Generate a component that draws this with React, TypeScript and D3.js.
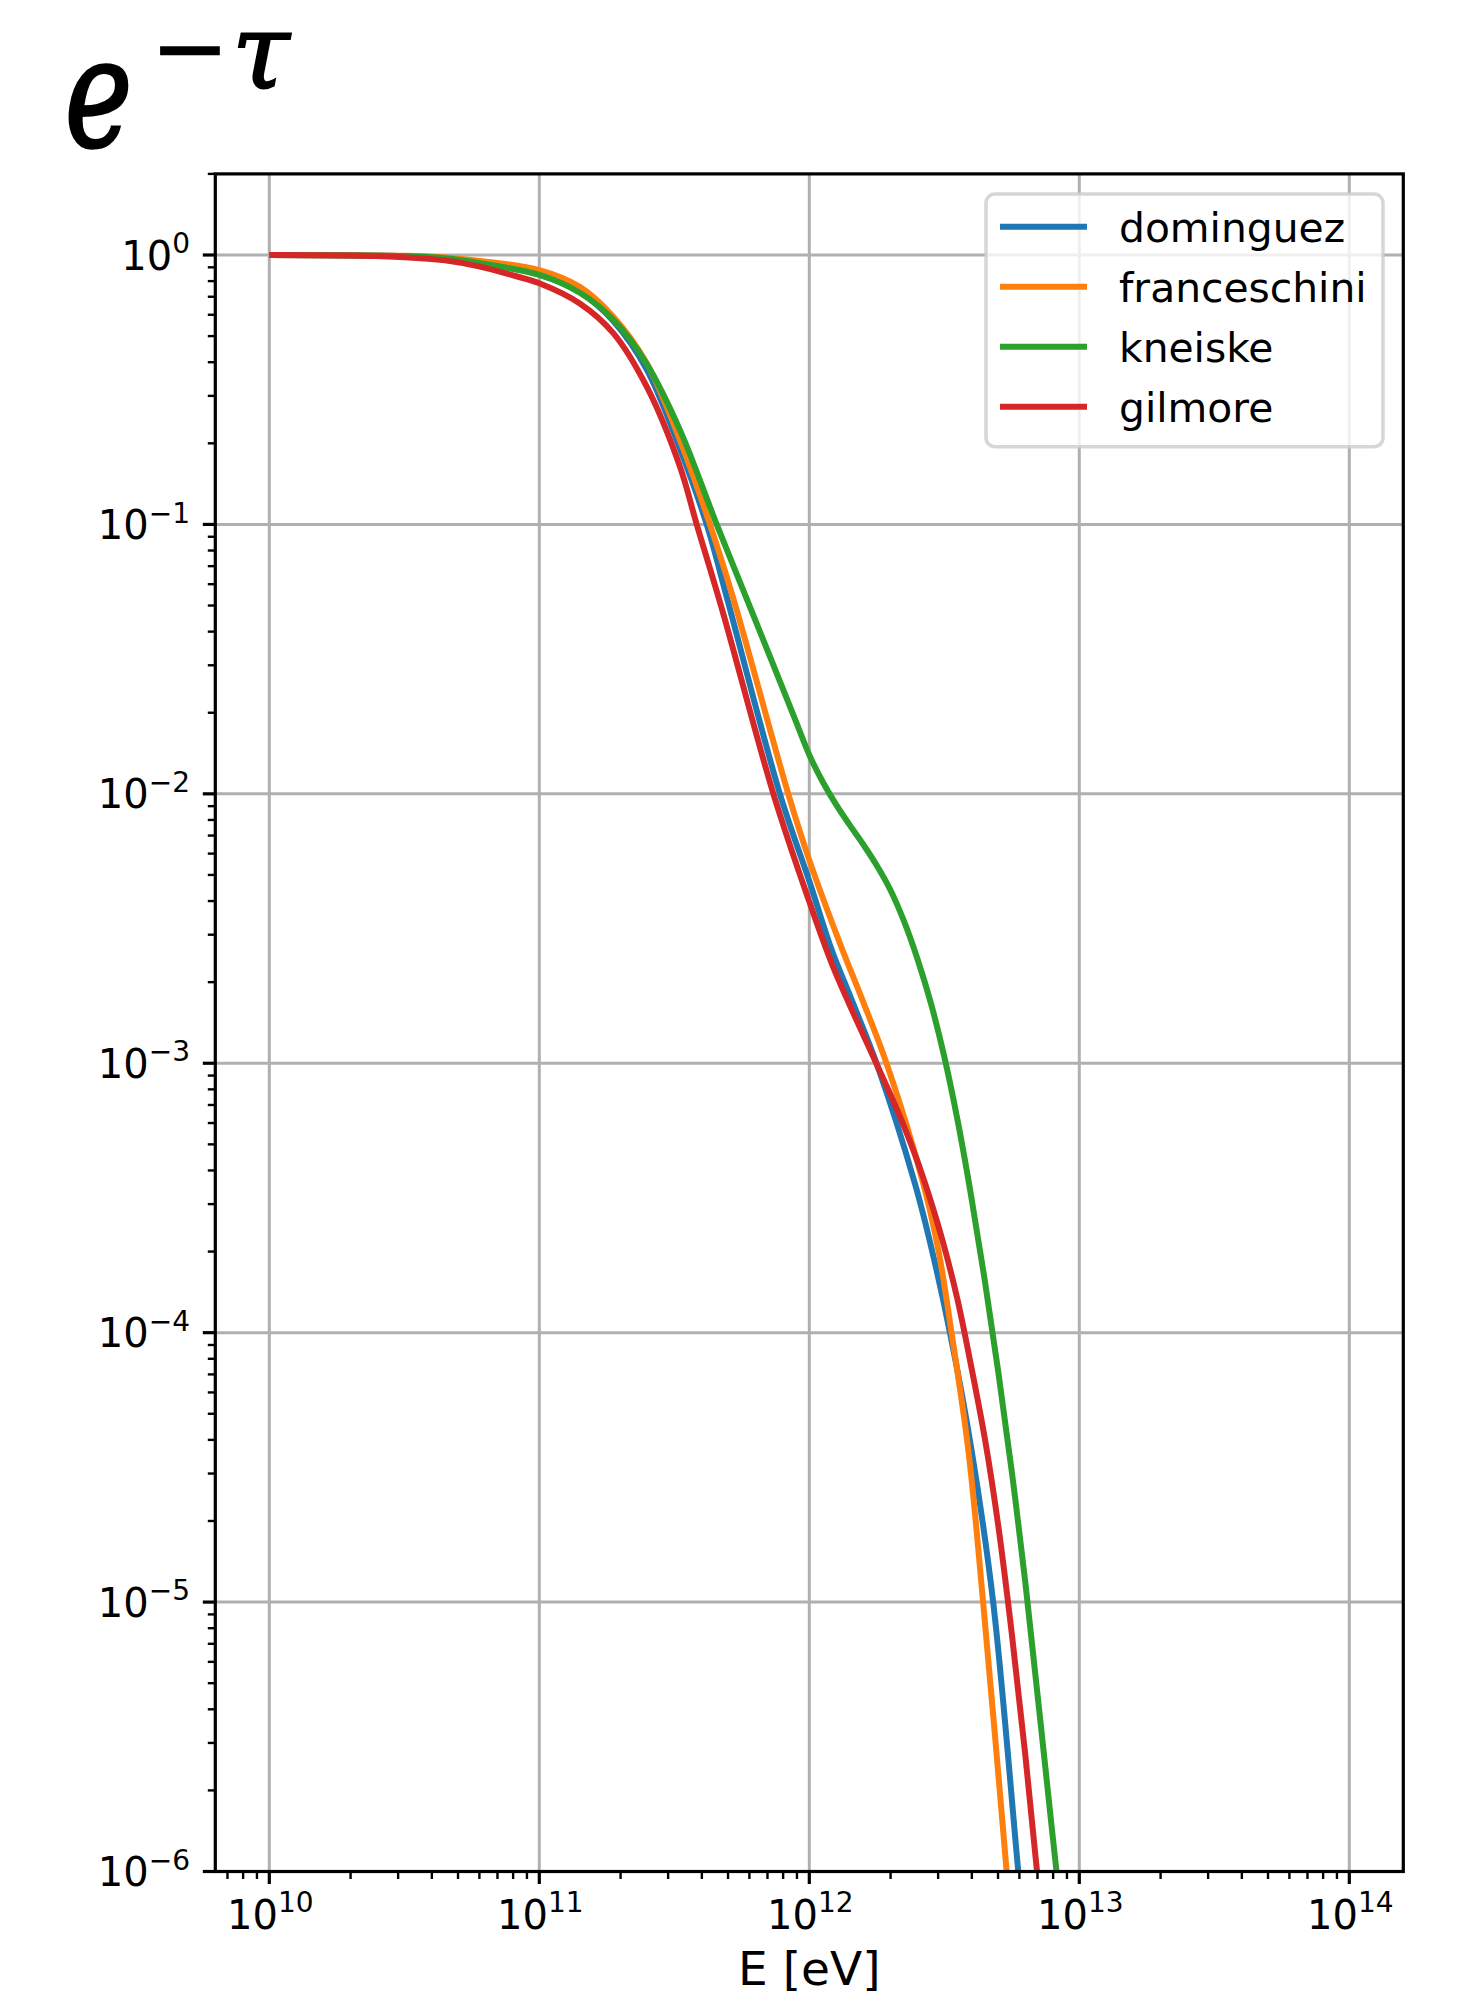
import React from "react";
import * as d3 from "d3";

// ---- data (log10 of energy in eV, log10 of e^-tau) ----
const seriesNames = ["dominguez", "franceschini", "kneiske", "gilmore"];
const seriesColors = ["#1f77b4", "#ff7f0e", "#2ca02c", "#d62728"];

const dominguezLogE = [10.0, 10.5, 10.65, 10.78, 11.0, 11.15, 11.274, 11.398, 11.521, 11.62, 11.697, 11.891, 12.002, 12.083, 12.157, 12.25, 12.391, 12.454, 12.521, 12.601, 12.681, 12.774, 12.83];
const dominguezLogT = [0, -0.004, -0.012, -0.03, -0.072, -0.137, -0.245, -0.425, -0.72, -1.0, -1.28, -2.0, -2.33, -2.58, -2.765, -3.003, -3.446, -3.693, -4.0, -4.436, -5.0, -6.0, -6.6];

const franceschiniLogE = [10.0, 10.5, 10.65, 10.78, 11.0, 11.15, 11.274, 11.398, 11.521, 11.632, 11.72, 11.922, 12.0, 12.113, 12.194, 12.287, 12.422, 12.478, 12.527, 12.589, 12.644, 12.731, 12.78];
const franceschiniLogT = [0, -0.003, -0.009, -0.022, -0.056, -0.118, -0.229, -0.402, -0.687, -1.0, -1.28, -2.0, -2.246, -2.554, -2.758, -3.003, -3.446, -3.693, -4.001, -4.436, -5.003, -6.0, -6.6];

const kneiskeLogE = [10.0, 10.5, 10.65, 10.78, 11.0, 11.15, 11.274, 11.398, 11.521, 11.657, 11.76, 11.86, 11.95, 12.002, 12.05, 12.1, 12.15, 12.2, 12.25, 12.3, 12.35, 12.4, 12.45, 12.5, 12.55, 12.6, 12.65, 12.7, 12.75, 12.8, 12.9, 12.97];
const kneiskeLogT = [0, -0.004, -0.012, -0.03, -0.074, -0.14, -0.24, -0.405, -0.65, -1.0, -1.256, -1.505, -1.73, -1.86, -1.956, -2.041, -2.116, -2.188, -2.266, -2.356, -2.471, -2.611, -2.776, -2.976, -3.216, -3.496, -3.806, -4.146, -4.516, -4.926, -5.856, -6.5];

const gilmoreLogE = [10.0, 10.3, 10.5, 10.65, 10.78, 10.9, 11.0, 11.15, 11.274, 11.398, 11.521, 11.583, 11.681, 11.867, 12.0, 12.089, 12.237, 12.3, 12.35, 12.4, 12.45, 12.5, 12.55, 12.6, 12.65, 12.7, 12.75, 12.8, 12.85, 12.9];
const gilmoreLogT = [0, -0.002, -0.008, -0.02, -0.043, -0.075, -0.105, -0.18, -0.29, -0.489, -0.786, -1.0, -1.33, -2.0, -2.4, -2.644, -2.976, -3.115, -3.232, -3.362, -3.512, -3.682, -3.882, -4.127, -4.392, -4.717, -5.117, -5.567, -6.067, -6.59];

const seriesLogE = [dominguezLogE, franceschiniLogE, kneiskeLogE, gilmoreLogE];
const seriesLogT = [dominguezLogT, franceschiniLogT, kneiskeLogT, gilmoreLogT];

const xMajorExps = [10, 11, 12, 13, 14];
const yMajorExps = [0, -1, -2, -3, -4, -5, -6];
const xLabel = "E [eV]";

const W = 1475;
const H = 1991;
const L = 215.3, R = 1403.3, T = 173.9, B = 1871.5;
const FONT = "DejaVu Sans";

export default function App() {
  const x = d3.scaleLog().domain([Math.pow(10, 9.8), Math.pow(10, 14.2)]).range([L, R]);
  const y = d3.scaleLog().domain([1e-6, 2]).range([B, T]);

  const line = d3
    .line<[number, number]>()
    .x((d) => x(d[0]))
    .y((d) => y(d[1]))
    .curve(d3.curveCatmullRom.alpha(0.5));

  const paths = seriesLogE.map((es, i) =>
    line(es.map((e, j) => [Math.pow(10, e), Math.pow(10, seriesLogT[i][j])] as [number, number]))
  );

  const [x0, x1] = x.domain();
  const [y0, y1] = y.domain();
  const xMinor: number[] = [];
  for (let p = 9; p <= 14; p++)
    for (let k = 2; k <= 9; k++) {
      const v = k * Math.pow(10, p);
      if (v >= x0 && v <= x1 * 1.0000001) xMinor.push(v);
    }
  const yMinor: number[] = [];
  for (let p = -7; p <= 0; p++)
    for (let k = 2; k <= 9; k++) {
      const v = k * Math.pow(10, p);
      if (v >= y0 && v <= y1 * 1.0000001) yMinor.push(v);
    }

  const grid = "#b0b0b0";
  const majLen = 12.5, minLen = 7.5;

  return (
    <svg
      width={W}
      height={H}
      style={{ position: "absolute", left: 0, top: 0, background: "#fff" }}
      xmlns="http://www.w3.org/2000/svg"
    >
      <rect x={0} y={0} width={W} height={H} fill="#ffffff" />
      {/* title */}
      <text
        transform="translate(65,146) scale(0.84,1.12)"
        fontFamily="DejaVu Serif"
        fontStyle="italic"
        fontSize={135}
        fill="#000"
        stroke="#000"
        strokeWidth={3}
      >
        e
      </text>
      <text x={151} y={80} fontFamily="DejaVu Serif" fontSize={93} fill="#000" stroke="#000" strokeWidth={1.5}>
        −
      </text>
      <text x={232} y={88} fontFamily="DejaVu Serif" fontStyle="italic" fontSize={104} fill="#000" stroke="#000" strokeWidth={2}>
        τ
      </text>

      <defs>
        <clipPath id="plotclip">
          <rect x={L} y={T} width={R - L} height={B - T} />
        </clipPath>
      </defs>

      {/* grid */}
      {xMajorExps.map((e) => (
        <line key={"gx" + e} x1={x(Math.pow(10, e))} x2={x(Math.pow(10, e))} y1={T} y2={B} stroke={grid} strokeWidth={3} />
      ))}
      {yMajorExps.map((e) => (
        <line key={"gy" + e} x1={L} x2={R} y1={y(Math.pow(10, e))} y2={y(Math.pow(10, e))} stroke={grid} strokeWidth={3} />
      ))}

      {/* curves */}
      <g clipPath="url(#plotclip)">
        {paths.map((d, i) => (
          <path key={seriesNames[i]} d={d || ""} fill="none" stroke={seriesColors[i]} strokeWidth={6} strokeLinejoin="round" />
        ))}
      </g>

      {/* spines */}
      <rect x={L} y={T} width={R - L} height={B - T} fill="none" stroke="#000" strokeWidth={3.2} />

      {/* x ticks */}
      {xMajorExps.map((e) => (
        <line key={"xt" + e} x1={x(Math.pow(10, e))} x2={x(Math.pow(10, e))} y1={B} y2={B + majLen} stroke="#000" strokeWidth={3.2} />
      ))}
      {xMinor.map((v, i) => (
        <line key={"xm" + i} x1={x(v)} x2={x(v)} y1={B} y2={B + minLen} stroke="#000" strokeWidth={2.4} />
      ))}
      {xMajorExps.map((e) => (
        <text key={"xl" + e} x={x(Math.pow(10, e)) + 1} y={1928.5} fontFamily={FONT} fontSize={40} textAnchor="middle" fill="#000">
          10
          <tspan dy={-16.5} fontSize={28}>{String(e)}</tspan>
        </text>
      ))}

      {/* y ticks */}
      {yMajorExps.map((e) => (
        <line key={"yt" + e} x1={L - majLen} x2={L} y1={y(Math.pow(10, e))} y2={y(Math.pow(10, e))} stroke="#000" strokeWidth={3.2} />
      ))}
      {yMinor.map((v, i) => (
        <line key={"ym" + i} x1={L - minLen} x2={L} y1={y(v)} y2={y(v)} stroke="#000" strokeWidth={2.4} />
      ))}
      {yMajorExps.map((e) => (
        <text key={"yl" + e} x={190} y={y(Math.pow(10, e)) + 14.6} fontFamily={FONT} fontSize={40} textAnchor="end" fill="#000">
          10
          <tspan dy={-16.5} fontSize={28}>{e === 0 ? "0" : "−" + String(-e)}</tspan>
        </text>
      ))}

      {/* x axis label */}
      <text x={(L + R) / 2} y={1985} fontFamily={FONT} fontSize={47} textAnchor="middle" fill="#000">
        {xLabel}
      </text>

      {/* legend */}
      <rect x={986} y={194} width={397} height={252.7} rx={9} ry={9} fill="#ffffff" fillOpacity={0.8} stroke="#cccccc" strokeOpacity={0.8} strokeWidth={3.5} />
      {seriesNames.map((n, i) => {
        const ly = 226.7 + i * 60;
        return (
          <g key={"lg" + n}>
            <line x1={1000} x2={1087} y1={ly} y2={ly} stroke={seriesColors[i]} strokeWidth={6} />
            <text x={1119} y={ly + 15} fontFamily={FONT} fontSize={40.8} fill="#000">
              {n}
            </text>
          </g>
        );
      })}
    </svg>
  );
}
